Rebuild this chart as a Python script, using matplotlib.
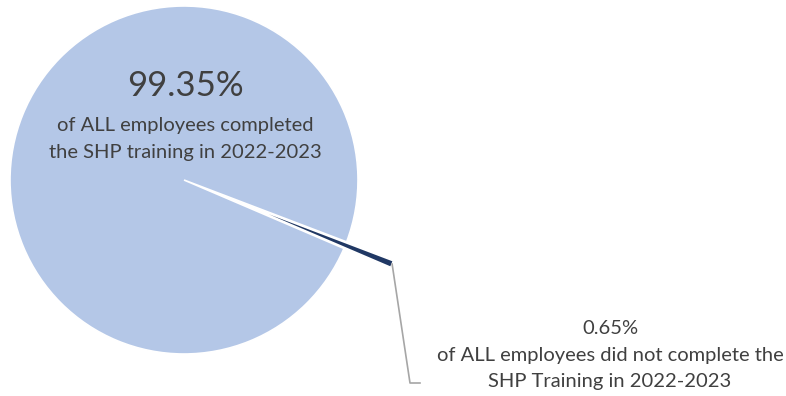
import matplotlib.pyplot as plt
import numpy as np

labels = ["completed", "did not complete"]
values = [99.35, 0.65]
colors = ["#b4c7e7", "#203864"]
explode = [0, 0.29]

W, H = 786, 396
cx, cy, r = 184, H - 180, 174
mid_small = -22.0  # direction of the pulled-out slice, degrees

plt.rcParams['font.family'] = ['Lato', 'DejaVu Sans']

fig = plt.figure(figsize=(W / 100, H / 100), dpi=100)
ax = fig.add_axes([0, 0, 1, 1])

frac_small = values[1] / sum(values)
start = mid_small - 360 * (1 - frac_small / 2)
# pie's explode is in data units when a radius is given
wedges, _ = ax.pie(values, colors=colors, explode=[e * r for e in explode],
                   startangle=start, center=(cx, cy), radius=r, frame=True,
                   wedgeprops=dict(linewidth=1.2, edgecolor="white"))
ax.set_xlim(0, W)
ax.set_ylim(0, H)
ax.set_aspect('equal')
ax.axis('off')

txt = "#404040"
ax.text(cx + 1, H - 86, f"{values[0]:.2f}%", ha='center', va='center',
        fontsize=25, color=txt)
ax.text(cx + 1, H - 139, "of ALL employees completed\nthe SHP training in 2022-2023",
        ha='center', va='center', fontsize=14.5, color=txt, linespacing=1.65)

# leader line from the small slice
a = np.deg2rad(mid_small)
tip_x = cx + (1 + explode[1]) * r * np.cos(a)
tip_y = cy + (1 + explode[1]) * r * np.sin(a)
ax.plot([tip_x, 410, 420], [tip_y, H - 383, H - 383], color="#a6a6a6", lw=1.2)

ax.text(610, H - 355, f"{values[1]:.2f}%\nof ALL employees did not complete the\nSHP Training in 2022-2023",
        ha='center', va='center', fontsize=14.5, color=txt, linespacing=1.65)

fig.savefig("out.png", dpi=100)
